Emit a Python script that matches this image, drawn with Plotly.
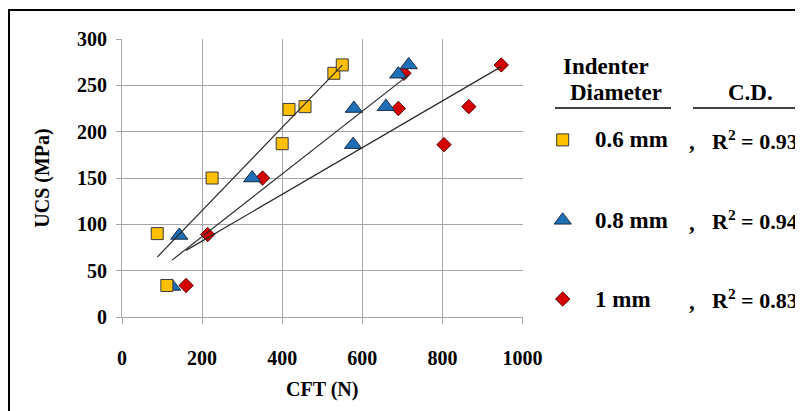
import numpy as np
import plotly.graph_objects as go

# ---------------- data ----------------
cft_06 = [88, 112, 225, 400, 417, 457, 529, 550]
ucs_06 = [90, 34, 150, 187, 224, 227, 263, 272]
cft_08 = [125, 143, 325, 577, 579, 659, 690, 716]
ucs_08 = [33, 88, 150, 186, 225, 227, 262, 272]
cft_10 = [160, 214, 351, 690, 704, 804, 866, 947]
ucs_10 = [34, 89, 150, 225, 263, 186, 227, 272]

labels = ["0.6 mm", "0.8 mm", "1 mm"]
r2_text = ["0.93", "0.94", "0.83"]

x_ticks = [0, 200, 400, 600, 800, 1000]
y_ticks = [0, 50, 100, 150, 200, 250, 300]

# ---------------- layout geometry (pixels, page coordinates) ----------------
W, H = 803, 411
OFF = 8  # page body margin of the html document
PL, PR, PT, PB = 122 - OFF, 522.5 - OFF, 39 - OFF, 317.3 - OFF
FULL_R = W

def xp(px):
    return (px - OFF - PL) / (FULL_R - PL)

def yp(py):
    return (PB - (py - OFF)) / (PB - PT)

FONT = "Liberation Serif"
styles = [
    dict(symbol="square", size=12, color="#FFC000", line=dict(color="#3a3a3a", width=1)),
    dict(symbol="triangle-up", size=15, color="#1F6FB8", line=dict(color="#1a2a40", width=1)),
    dict(symbol="diamond", size=11, color="#D50000", line=dict(color="#5a0000", width=1)),
]
series = [(cft_06, ucs_06), (cft_08, ucs_08), (cft_10, ucs_10)]

fig = go.Figure()

# markers (1 mm drawn first, 0.6 mm on top)
for i in [2, 1, 0]:
    x, y = series[i]
    fig.add_trace(go.Scatter(x=x, y=y, mode="markers", marker=styles[i],
                             showlegend=False, cliponaxis=False))

# linear trendlines
for i in range(3):
    x, y = series[i]
    k, b = np.polyfit(x, y, 1)
    xs = np.array([min(x), max(x)])
    fig.add_trace(go.Scatter(x=xs, y=k * xs + b, mode="lines",
                             line=dict(color="#2a2a2a", width=1.2),
                             showlegend=False, hoverinfo="skip"))

# legend markers on an overlay pixel axis spanning the right side
leg_y = [140, 220.5, 299.3]
for i in range(3):
    fig.add_trace(go.Scatter(x=[562.7 - OFF], y=[leg_y[i] - OFF], mode="markers",
                             marker=styles[i], xaxis="x2", yaxis="y2", showlegend=False,
                             cliponaxis=False, hoverinfo="skip"))

axis_font = dict(family=FONT, size=20, color="black", weight="bold")
fig.update_layout(
    width=W, height=H,
    margin=dict(l=PL, r=0, t=PT, b=H - PB, pad=0),
    paper_bgcolor="white", plot_bgcolor="rgba(0,0,0,0)",
    showlegend=False,
    xaxis=dict(domain=[0, (PR - PL) / (FULL_R - PL)], range=[0, 1000], tickvals=x_ticks,
               showgrid=True, gridcolor="#a6a6a6", automargin=False,
               gridwidth=1, showline=True, linecolor="#a6a6a6", linewidth=1,
               ticks="outside", ticklen=6, tickcolor="#a6a6a6", zeroline=False,
               tickfont=axis_font, ticklabelstandoff=17,
               title=dict(text="CFT (N)", font=axis_font, standoff=13)),
    yaxis=dict(range=[0, 300], tickvals=y_ticks, showgrid=True, gridcolor="#a6a6a6",
               gridwidth=1, showline=True, linecolor="#a6a6a6", linewidth=1, automargin=False,
               ticks="outside", ticklen=5, tickcolor="#a6a6a6", zeroline=False,
               tickfont=axis_font, ticklabelstandoff=5,
               title=dict(text="UCS (MPa)", font=axis_font, standoff=22)),
    xaxis2=dict(range=[PL, FULL_R], domain=[0, 1], anchor="y2", visible=False),
    yaxis2=dict(range=[PB, PT], domain=[0, 1], anchor="x2", visible=False),
)

# outer frame
fig.add_shape(type="rect", xref="paper", yref="paper",
              x0=xp(9), x1=xp(830), y0=yp(440), y1=yp(10),
              line=dict(color="black", width=2), fillcolor="rgba(0,0,0,0)")

def ann(text, px, py, xanchor="left", size=23):
    fig.add_annotation(text=text, xref="paper", yref="paper", x=xp(px), y=yp(py),
                       xanchor=xanchor, yanchor="middle", showarrow=False,
                       font=dict(family=FONT, size=size, color="black", weight="bold"),
                       borderpad=0)

ann("Indenter", 606, 67, "center")
ann("Diameter", 616, 93, "center")
ann("C.D.", 750, 93, "center")
fig.add_shape(type="line", xref="paper", yref="paper", x0=xp(555), x1=xp(671),
              y0=yp(108), y1=yp(108), line=dict(color="black", width=1.5))
fig.add_shape(type="line", xref="paper", yref="paper", x0=xp(693), x1=xp(815),
              y0=yp(108), y1=yp(108), line=dict(color="black", width=1.5))

for i in range(3):
    ann(labels[i], 594, leg_y[i])
    ann(",", 688, leg_y[i] + 2)
    ann("R<sup>2</sup> = " + r2_text[i], 711, leg_y[i], size=22)

fig.write_html("out.html")
